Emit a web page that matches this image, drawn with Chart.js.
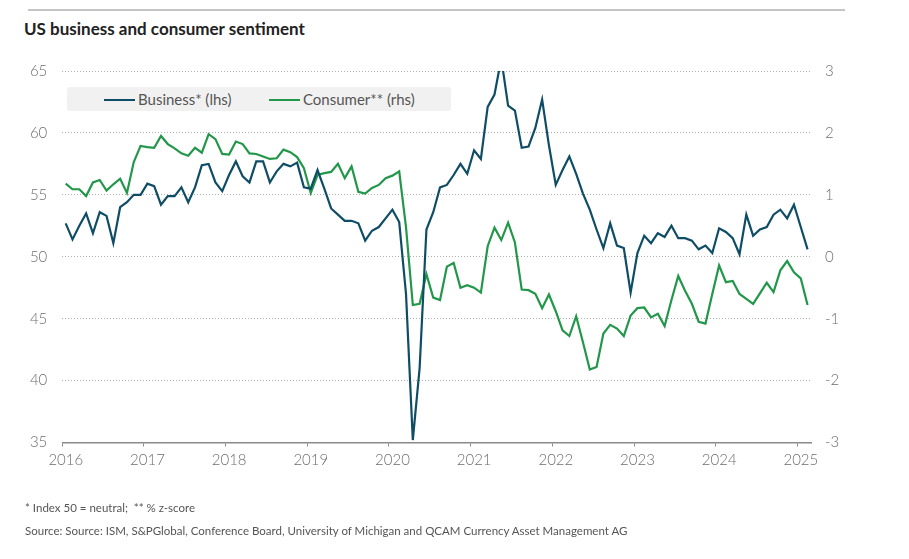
<!DOCTYPE html>
<html>
<head>
<meta charset="utf-8">
<script src="https://cdn.jsdelivr.net/npm/chart.js@4.4.1/dist/chart.umd.min.js"></script>
<style>
  html, body { margin: 0; padding: 0; background: #fff; }
  body { width: 909px; height: 559px; position: relative; overflow: hidden; font-family: Lato, "Open Sans", sans-serif; }
  #rule { position: absolute; left: 28px; top: 9px; width: 817px; height: 2px; background: #c4c4c4; }
  #title { position: absolute; left: 24px; top: 20px; font-size: 17px; line-height: 1; font-weight: 700; color: #222; white-space: nowrap; }
  #wrap { position: absolute; left: 0; top: 0; width: 909px; height: 559px; }
  #legend { position: absolute; left: 67px; top: 87px; width: 384px; height: 24px; background: #f1f1f1; border-radius: 3px; font-size: 15px; color: #555; }
  .item { position: absolute; top: 5px; line-height: 1; white-space: nowrap; }
  .swatch { display: inline-block; width: 31px; height: 2px; vertical-align: middle; margin-right: 3px; position: relative; top: -1px; }
  .note { position: absolute; left: 25px; font-size: 11.5px; line-height: 1; color: #555; white-space: nowrap; }
</style>
</head>
<body>
<div id="rule"></div>
<div id="title">US business and consumer sentiment</div>
<div id="wrap"><canvas id="c" width="909" height="559"></canvas></div>
<div id="legend">
  <div class="item" style="left:37px"><span class="swatch" style="background:#0f4d66"></span>Business* (lhs)</div>
  <div class="item" style="left:202px"><span class="swatch" style="background:#22974a"></span>Consumer** (rhs)</div>
</div>
<div class="note" style="top:502px">* Index 50 = neutral;&nbsp; ** % z-score</div>
<div class="note" style="top:525px">Source: Source: ISM, S&amp;PGlobal, Conference Board, University of Michigan and QCAM Currency Asset Management AG</div>
<script>
// Monthly observations, Jan 2016 – Feb 2025
const startYear = 2016;
const business = [
  52.7, 51.4, 52.5, 53.5, 51.9, 53.6, 53.3, 51.1, 54.0, 54.4, 55.0, 55.0,
  55.9, 55.7, 54.2, 54.9, 54.9, 55.6, 54.4, 55.6, 57.4, 57.5, 56.0, 55.3,
  56.6, 57.7, 56.5, 56.0, 57.7, 57.7, 56.0, 56.9, 57.5, 57.3, 57.6, 55.6,
  55.5, 57.0, 55.5, 53.9, 53.4, 52.9, 52.9, 52.7, 51.3, 52.1, 52.4, 53.1,
  53.8, 52.8, 47.0, 35.2, 41.0, 52.2, 53.6, 55.6, 55.8, 56.6, 57.5, 56.7,
  58.6, 57.9, 62.1, 63.1, 66.0, 62.2, 61.8, 58.8, 58.9, 60.4, 62.7, 59.0,
  55.8, 57.0, 58.1, 56.7, 55.1, 53.8, 52.2, 50.7, 52.7, 50.9, 50.7, 47.1,
  50.3, 51.7, 51.1, 51.9, 51.6, 52.5, 51.5, 51.5, 51.3, 50.6, 50.9, 50.3,
  52.3, 52.0, 51.5, 50.2, 53.4, 51.7, 52.2, 52.4, 53.4, 53.8, 53.1, 54.2,
  52.4, 50.6
];
const consumer = [
  1.18, 1.09, 1.09, 0.98, 1.20, 1.24, 1.07, 1.17, 1.26, 1.03, 1.53, 1.79,
  1.77, 1.76, 1.95, 1.82, 1.75, 1.67, 1.63, 1.76, 1.68, 1.98, 1.90, 1.66,
  1.65, 1.86, 1.82, 1.67, 1.66, 1.62, 1.58, 1.59, 1.73, 1.69, 1.61, 1.43,
  1.03, 1.32, 1.35, 1.37, 1.50, 1.27, 1.46, 1.05, 1.02, 1.11, 1.16, 1.27,
  1.31, 1.38, 0.48, -0.78, -0.76, -0.28, -0.66, -0.70, -0.16, -0.10, -0.50, -0.46,
  -0.50, -0.58, 0.17, 0.47, 0.27, 0.55, 0.23, -0.53, -0.54, -0.60, -0.83, -0.61,
  -0.88, -1.19, -1.28, -0.96, -1.38, -1.82, -1.78, -1.24, -1.10, -1.16, -1.28, -0.95,
  -0.83, -0.82, -0.98, -0.92, -1.12, -0.70, -0.31, -0.55, -0.76, -1.05, -1.08, -0.60,
  -0.14, -0.41, -0.39, -0.60, -0.68, -0.76, -0.59, -0.42, -0.57, -0.22, -0.07, -0.25,
  -0.35, -0.78
];
const yearTicks = [2016, 2017, 2018, 2019, 2020, 2021, 2022, 2023, 2024, 2025];
const leftTicks = [35, 40, 45, 50, 55, 60, 65];
const rightTicks = [-3, -2, -1, 0, 1, 2, 3];

// mid-month dates as decimal years
const dates = business.map((_, i) => startYear + (i + 0.5) / 12);
const toPoints = (vals) => vals.map((v, i) => ({ x: dates[i], y: v }));

const tickFont = { family: 'Lato, "Open Sans", sans-serif', size: 15, weight: 300 };
const tickColor = '#6e6e6e';

new Chart(document.getElementById('c'), {
  type: 'line',
  data: {
    datasets: [
      { label: 'Business* (lhs)', data: toPoints(business), yAxisID: 'yL',
        borderColor: '#0f4d66', borderWidth: 2.2, pointRadius: 0, tension: 0, fill: false },
      { label: 'Consumer** (rhs)', data: toPoints(consumer), yAxisID: 'yR',
        borderColor: '#22974a', borderWidth: 2.2, pointRadius: 0, tension: 0, fill: false }
    ]
  },
  options: {
    responsive: false,
    animation: false,
    devicePixelRatio: 1,
    layout: { padding: { top: 71, left: 0, right: 0, bottom: 0 } },
    plugins: { legend: { display: false }, tooltip: { enabled: false } },
    scales: {
      x: {
        type: 'linear',
        min: yearTicks[0],
        max: 2025.167,
        afterBuildTicks: (s) => { s.ticks = yearTicks.map(v => ({ value: v })); },
        afterFit: (s) => { s.height = 116.5; },
        grid: { display: true, drawOnChartArea: false, drawTicks: true, tickLength: 4, tickColor: '#8a8a8a', tickWidth: 1 },
        border: { display: true, color: '#8a8a8a', width: 1.5 },
        ticks: { color: tickColor, font: tickFont, padding: 5, labelOffset: 3.5, maxRotation: 0, autoSkip: false,
                 callback: (v) => String(v) }
      },
      yL: {
        position: 'left',
        min: leftTicks[0],
        max: leftTicks[leftTicks.length - 1],
        afterBuildTicks: (s) => { s.ticks = leftTicks.map(v => ({ value: v })); },
        afterFit: (s) => { s.width = 62.3; },
        grid: { color: '#b0b0b0', lineWidth: 1, drawTicks: false },
        border: { display: false, dash: [1, 2] },
        ticks: { color: tickColor, font: tickFont, padding: 15, callback: (v) => String(v) }
      },
      yR: {
        position: 'right',
        min: rightTicks[0],
        max: rightTicks[rightTicks.length - 1],
        afterBuildTicks: (s) => { s.ticks = rightTicks.map(v => ({ value: v })); },
        afterFit: (s) => { s.width = 98; },
        grid: { drawOnChartArea: false, drawTicks: false },
        border: { display: false },
        ticks: { color: tickColor, font: tickFont, padding: 14, callback: (v) => String(v) }
      }
    }
  }
});
</script>
</body>
</html>
